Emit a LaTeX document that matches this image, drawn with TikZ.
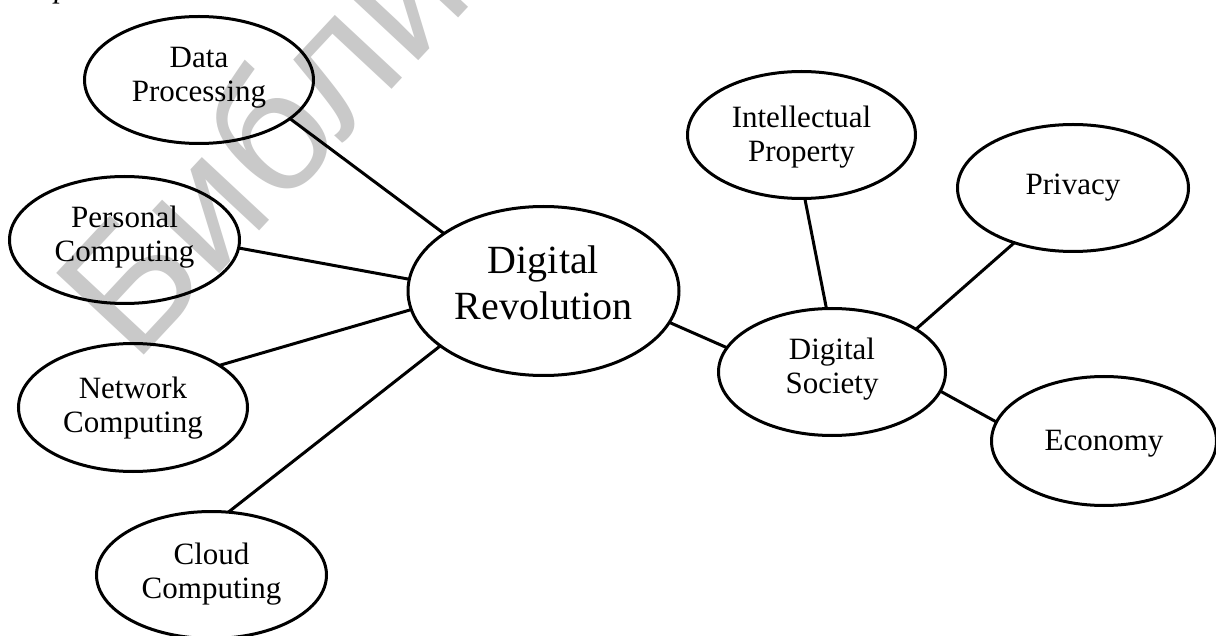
\documentclass[tikz,border=0pt]{standalone}
\usepackage{fontspec}
\setmainfont{Liberation Serif}
\newfontfamily\wmfont{Liberation Sans}
\usetikzlibrary{shapes.geometric}
\tikzset{
  bub/.style={ellipse, draw=black, line width=3pt, inner sep=0pt, outer sep=0pt,
    align=center, font=\fontsize{31}{34}\selectfont, text height=54pt, text depth=10pt},
  bigbub/.style={bub, font=\fontsize{40}{47}\selectfont, text height=72pt, text depth=14pt},
  link/.style={draw=black, line width=3pt},
  wm/.style={text=black!21, font=\wmfont\fontsize{174}{174}\selectfont, inner sep=0pt}
}
\begin{document}
\begin{tikzpicture}[x=1pt,y=-1pt]
\useasboundingbox (0,0) rectangle (1216,636);
\clip (0,0) rectangle (1216,636);
\fill[white] (0,0) rectangle (1216,636);
% watermark
\node[wm, rotate=47, anchor=base west] (wmark) at (134,366) {Библиотека БГУИР};
% fragment of text above
\node[font=\fontsize{31}{34}\selectfont\itshape, inner sep=0pt, anchor=base] (frag) at (62,-2) {p};
% nodes
\node[bub, minimum width=229pt, minimum height=127pt] (dp) at (199,80) {Data\\Processing};
\node[bub, minimum width=230pt, minimum height=127pt] (pc) at (124.5,240) {Personal\\Computing};
\node[bub, minimum width=229pt, minimum height=128pt, text height=58pt, text depth=9pt] (nc) at (133,407.5) {Network\\Computing};
\node[bub, minimum width=230pt, minimum height=127pt, text height=56pt, text depth=10pt] (cc) at (211.5,575) {Cloud\\Computing};
\node[bigbub, minimum width=271pt, minimum height=169pt] (dr) at (543.5,291) {Digital\\Revolution};
\node[bub, minimum width=227pt, minimum height=127pt, text height=52pt, text depth=10pt] (ds) at (832,372) {Digital\\Society};
\node[bub, minimum width=228pt, minimum height=127pt, text height=62pt, text depth=8pt] (ip) at (801.5,135) {Intellectual\\Property};
\node[bub, minimum width=231pt, minimum height=127pt, text height=24pt, text depth=10pt] (pr) at (1073,188) {Privacy};
\node[bub, minimum width=225pt, minimum height=129pt, text height=27pt, text depth=9pt] (ec) at (1104,441) {Economy};
% connectors
\draw[link] (dp.-23) -- (dr.150);
\draw[link] (pc.-4) -- (dr.175);
\draw[link] (nc.26) -- (dr.188);
\draw[link] (cc.75) -- (dr.208);
\draw[link] (dr.-14) -- (ds.167.5);
\draw[link] (ip.-87) -- (ds.95);
\draw[link] (pr.223.5) -- (ds.27);
\draw[link] (ds.-10) -- (ec.170);
\end{tikzpicture}
\end{document}
